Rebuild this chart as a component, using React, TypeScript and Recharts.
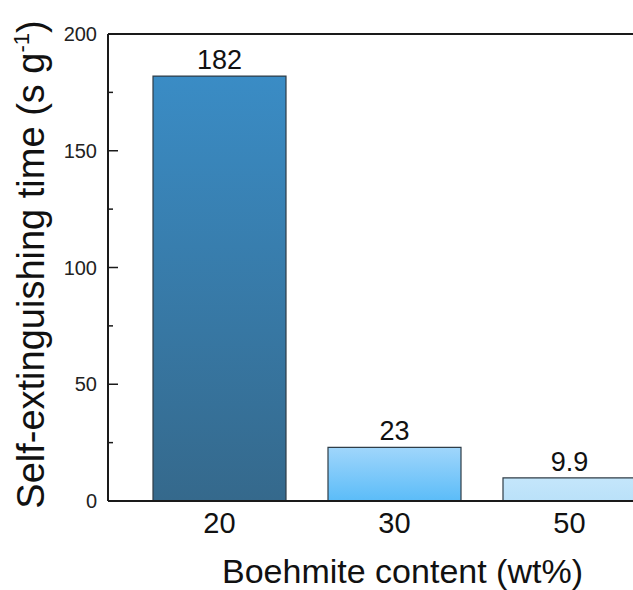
import React from 'react';
import { BarChart, Bar, XAxis, YAxis, Cell, LabelList, ReferenceLine } from 'recharts';

const contents = ['20', '30', '50'];
const extinguishTimes = [182, 23, 9.9];
const yTicks = [0, 25, 50, 75, 100, 125, 150, 175, 200];

const FONT = "Arial, 'Liberation Sans', sans-serif";
const AXIS = '#1a1a1a';

const data = contents.map((c, i) => ({ content: c, time: extinguishTimes[i] }));
const fills = ['url(#barDark)', 'url(#barMid)', 'url(#barLight)'];

// y ticks point inward; minor ticks every 25 without text
const YTick = (props: any) => {
  const { x, y, payload } = props;
  const v = payload.value;
  const major = v % 50 === 0;
  const ax = x + 11;
  return (
    <g>
      <line x1={ax} x2={ax + (major ? 10 : 5)} y1={y} y2={y} stroke={AXIS} strokeWidth={1.5} />
      {major && (
        <text x={x} y={y} textAnchor="end" dominantBaseline="central" fontSize={20} fill="#222" fontFamily={FONT}>
          {v}
        </text>
      )}
    </g>
  );
};

const YTitle = (props: any) => {
  const { viewBox } = props;
  const x = viewBox.x - 4;
  const y = viewBox.y + viewBox.height / 2 - 3;
  return (
    <text
      x={x}
      y={y}
      transform={`rotate(-90, ${x}, ${y})`}
      textAnchor="middle"
      fontSize={38}
      fill="#111"
      fontFamily={FONT}
    >
      Self-extinguishing time (s g
      <tspan dy={-15} fontSize={22}>-1</tspan>
      <tspan dy={15}>)</tspan>
    </text>
  );
};

export default function App() {
  return (
    <div style={{ position: 'fixed', top: 0, left: 0, width: 633, height: 590, overflow: 'hidden', background: '#fff' }}>
      <BarChart
        width={700}
        height={590}
        data={data}
        margin={{ top: 34, right: 19, bottom: 0, left: 48 }}
        barCategoryGap="12%"
      >
        <defs>
          <linearGradient id="barDark" x1="0" y1="0" x2="0" y2="1">
            <stop offset="0%" stopColor="#3a8cc5" />
            <stop offset="100%" stopColor="#35698c" />
          </linearGradient>
          <linearGradient id="barMid" x1="0" y1="0" x2="0" y2="1">
            <stop offset="0%" stopColor="#a0d6fb" />
            <stop offset="100%" stopColor="#5bbcf8" />
          </linearGradient>
          <linearGradient id="barLight" x1="0" y1="0" x2="0" y2="1">
            <stop offset="0%" stopColor="#c4e6fb" />
            <stop offset="100%" stopColor="#bae1f9" />
          </linearGradient>
        </defs>
        <XAxis
          dataKey="content"
          height={89}
          padding={{ left: 24, right: 24 }}
          axisLine={{ stroke: AXIS, strokeWidth: 2 }}
          tickLine={false}
          tickSize={0}
          tickMargin={11}
          tick={{ fontSize: 29, fill: '#111', fontFamily: FONT }}
          label={{
            value: 'Boehmite content (wt%)',
            position: 'insideBottom',
            offset: 7,
            dx: 8,
            style: { fontSize: 34, fill: '#111', fontFamily: FONT },
          }}
        />
        <YAxis
          domain={[0, 200]}
          ticks={yTicks}
          width={60}
          interval={0}
          axisLine={{ stroke: AXIS, strokeWidth: 2 }}
          tickLine={false}
          tickSize={0}
          tickMargin={11}
          tick={<YTick />}
          label={<YTitle />}
        />
        <ReferenceLine y={200} stroke={AXIS} strokeWidth={2} />
        <Bar dataKey="time" isAnimationActive={false} stroke="#2f3d47" strokeWidth={1.2}>
          {data.map((d, i) => (
            <Cell key={d.content} fill={fills[i]} />
          ))}
          <LabelList
            dataKey="time"
            position="top"
            offset={7}
            style={{ fontSize: 27, fill: '#111', fontFamily: FONT }}
          />
        </Bar>
      </BarChart>
    </div>
  );
}
